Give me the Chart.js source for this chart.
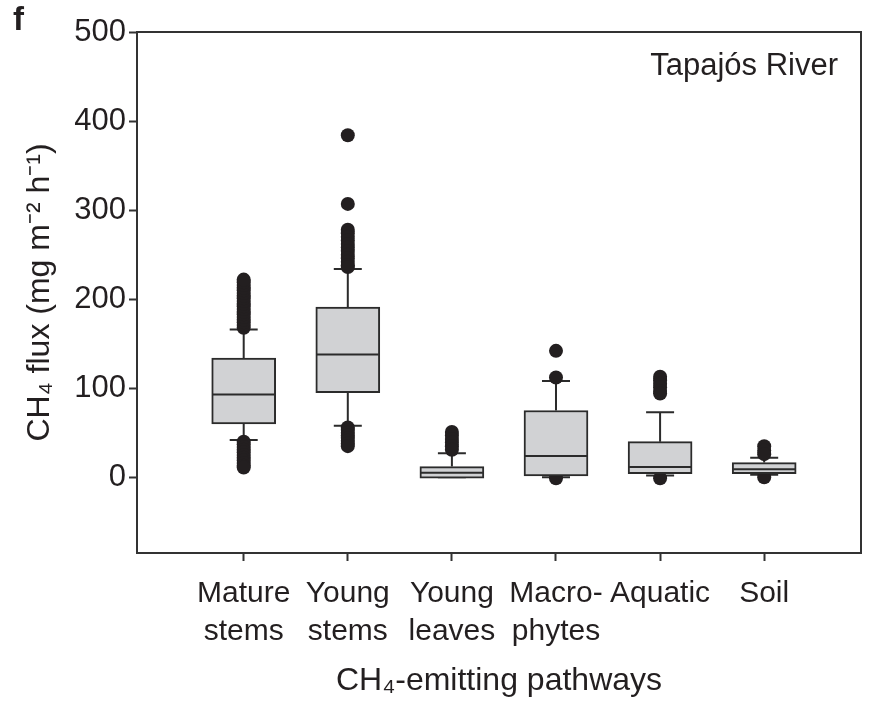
<!DOCTYPE html>
<html>
<head>
<meta charset="utf-8">
<script src="https://cdn.jsdelivr.net/npm/chart.js@4.4.1/dist/chart.umd.min.js"></script>
<style>
  html, body { margin: 0; padding: 0; background: #fff; }
</style>
</head>
<body>
<canvas id="chart" width="871" height="701"></canvas>
<script>
// Box plot: CH4 flux per emitting pathway, Tapajós River (panel f)
const categories = [["Mature", "stems"], ["Young", "stems"], ["Young", "leaves"], ["Macro-", "phytes"], "Aquatic", "Soil"]
const yTicks = [0, 100, 200, 300, 400, 500]

// five-number summaries
const whiskerLow = [42, 58, 0, 0, 2, 3]
const q1 = [60, 95, -1, 1.5, 4, 4]
const medians = [93, 138, 5, 24, 11.6, 9]
const q3 = [134, 191, 12, 75, 40, 16.5]
const whiskerHigh = [166, 234, 27, 108, 73, 22]

// outlier points per category
const matureOutliers = [168, 171, 174, 177, 180, 183, 186, 189, 192, 195, 198, 201, 204, 207, 210, 213, 216, 219, 222,
  40, 37, 34, 31, 28, 25, 22, 19, 16, 13, 11]
const youngStemOutliers = [384, 307, 278, 274, 270, 266, 262, 258, 254, 250, 246, 242, 238, 236,
  56, 53, 50, 47, 44, 41, 38, 35]
const youngLeafOutliers = [51, 47, 43, 39, 35, 31]
const macrophyteOutliers = [142, 112, -1]
const aquaticOutliers = [113, 109, 105, 101, 97, 94, -1]
const soilOutliers = [35, 30, 26, 0]
const outliers = [matureOutliers, youngStemOutliers, youngLeafOutliers, macrophyteOutliers, aquaticOutliers, soilOutliers]

const INK = "#231f20"
const FONT = "'Liberation Sans', Arial, Helvetica, sans-serif"

const boxData = q1.map((lo, i) => ({ x: i, y: [lo, q3[i]] }))
const pointData = outliers.flatMap((vals, i) => vals.map(v => ({ x: i, y: v })))

// whiskers go under the boxes and dots, medians on top
const boxExtras = {
  id: "boxExtras",
  beforeDatasetsDraw(chart) {
    const { ctx, scales: { x, y } } = chart
    ctx.save()
    ctx.strokeStyle = "#2b2b2b"
    ctx.lineWidth = 2
    q1.forEach((_, i) => {
      const px = x.getPixelForValue(i)
      const cap = 14
      ctx.beginPath()
      ctx.moveTo(px, y.getPixelForValue(whiskerHigh[i]))
      ctx.lineTo(px, y.getPixelForValue(q3[i]))
      ctx.moveTo(px, y.getPixelForValue(q1[i]))
      ctx.lineTo(px, y.getPixelForValue(whiskerLow[i]))
      ctx.moveTo(px - cap, y.getPixelForValue(whiskerHigh[i]))
      ctx.lineTo(px + cap, y.getPixelForValue(whiskerHigh[i]))
      ctx.moveTo(px - cap, y.getPixelForValue(whiskerLow[i]))
      ctx.lineTo(px + cap, y.getPixelForValue(whiskerLow[i]))
      ctx.stroke()
    })
    ctx.restore()
  },
  afterDatasetsDraw(chart) {
    const { ctx, scales: { x, y } } = chart
    ctx.save()
    ctx.strokeStyle = "#2b2b2b"
    ctx.lineWidth = 2
    medians.forEach((m, i) => {
      const px = x.getPixelForValue(i)
      const py = y.getPixelForValue(m)
      ctx.beginPath()
      ctx.moveTo(px - 31, py)
      ctx.lineTo(px + 31, py)
      ctx.stroke()
    })
    ctx.restore()
  },
  afterDraw(chart) {
    const { ctx, chartArea: a } = chart
    ctx.save()
    ctx.strokeStyle = "#333"
    ctx.lineWidth = 2
    ctx.strokeRect(a.left, a.top, a.right - a.left, a.bottom - a.top)
    ctx.fillStyle = INK
    ctx.font = `31px ${FONT}`
    ctx.textAlign = "right"
    ctx.textBaseline = "alphabetic"
    ctx.fillText("Tapajós River", 838, 75)
    ctx.font = `bold 33px ${FONT}`
    ctx.textAlign = "left"
    ctx.fillText("f", 13, 30)
    ctx.restore()
  },
}

new Chart(document.getElementById("chart"), {
  type: "bar",
  data: {
    datasets: [
      {
        label: "box",
        data: boxData,
        backgroundColor: "#d1d2d4",
        borderColor: "#2b2b2b",
        borderWidth: 2,
        borderSkipped: false,
        barThickness: 64,
      },
      {
        type: "scatter",
        label: "outliers",
        data: pointData,
        pointRadius: 7,
        pointBackgroundColor: INK,
        pointBorderWidth: 0,
        showLine: false,
      },
    ],
  },
  options: {
    responsive: false,
    animation: false,
    layout: { padding: { top: 32, right: 10, left: 0, bottom: 0 } },
    plugins: {
      legend: { display: false },
      tooltip: { enabled: false },
    },
    scales: {
      x: {
        type: "linear",
        offset: false,
        min: -1.025,
        max: 5.93,
        afterBuildTicks: s => { s.ticks = categories.map((_, i) => ({ value: i })) },
        afterFit: s => { s.height = 148 },
        ticks: {
          autoSkip: false,
          maxRotation: 0,
          padding: 14,
          color: INK,
          font: { family: FONT, size: 30, lineHeight: 1.25 },
          callback: v => categories[v],
        },
        grid: { offset: false, drawOnChartArea: false, tickLength: 8, tickWidth: 2, tickColor: "#333" },
        border: { display: false },
        title: {
          display: true,
          text: "CH₄-emitting pathways",
          color: INK,
          font: { family: FONT, size: 32 },
          padding: { top: 0, bottom: 1 },
        },
      },
      y: {
        min: -85,
        max: 500,
        afterBuildTicks: s => { s.ticks = yTicks.map(v => ({ value: v })) },
        afterFit: s => { s.width = 137 },
        ticks: {
          padding: 3,
          color: INK,
          font: { family: FONT, size: 31 },
        },
        grid: { drawOnChartArea: false, tickLength: 8, tickWidth: 2, tickColor: "#333" },
        border: { display: false },
        title: {
          display: true,
          text: "CH₄ flux (mg m⁻² h⁻¹)",
          color: INK,
          font: { family: FONT, size: 32 },
          padding: { top: 21, bottom: 0 },
        },
      },
    },
  },
  plugins: [boxExtras],
})
</script>
</body>
</html>
